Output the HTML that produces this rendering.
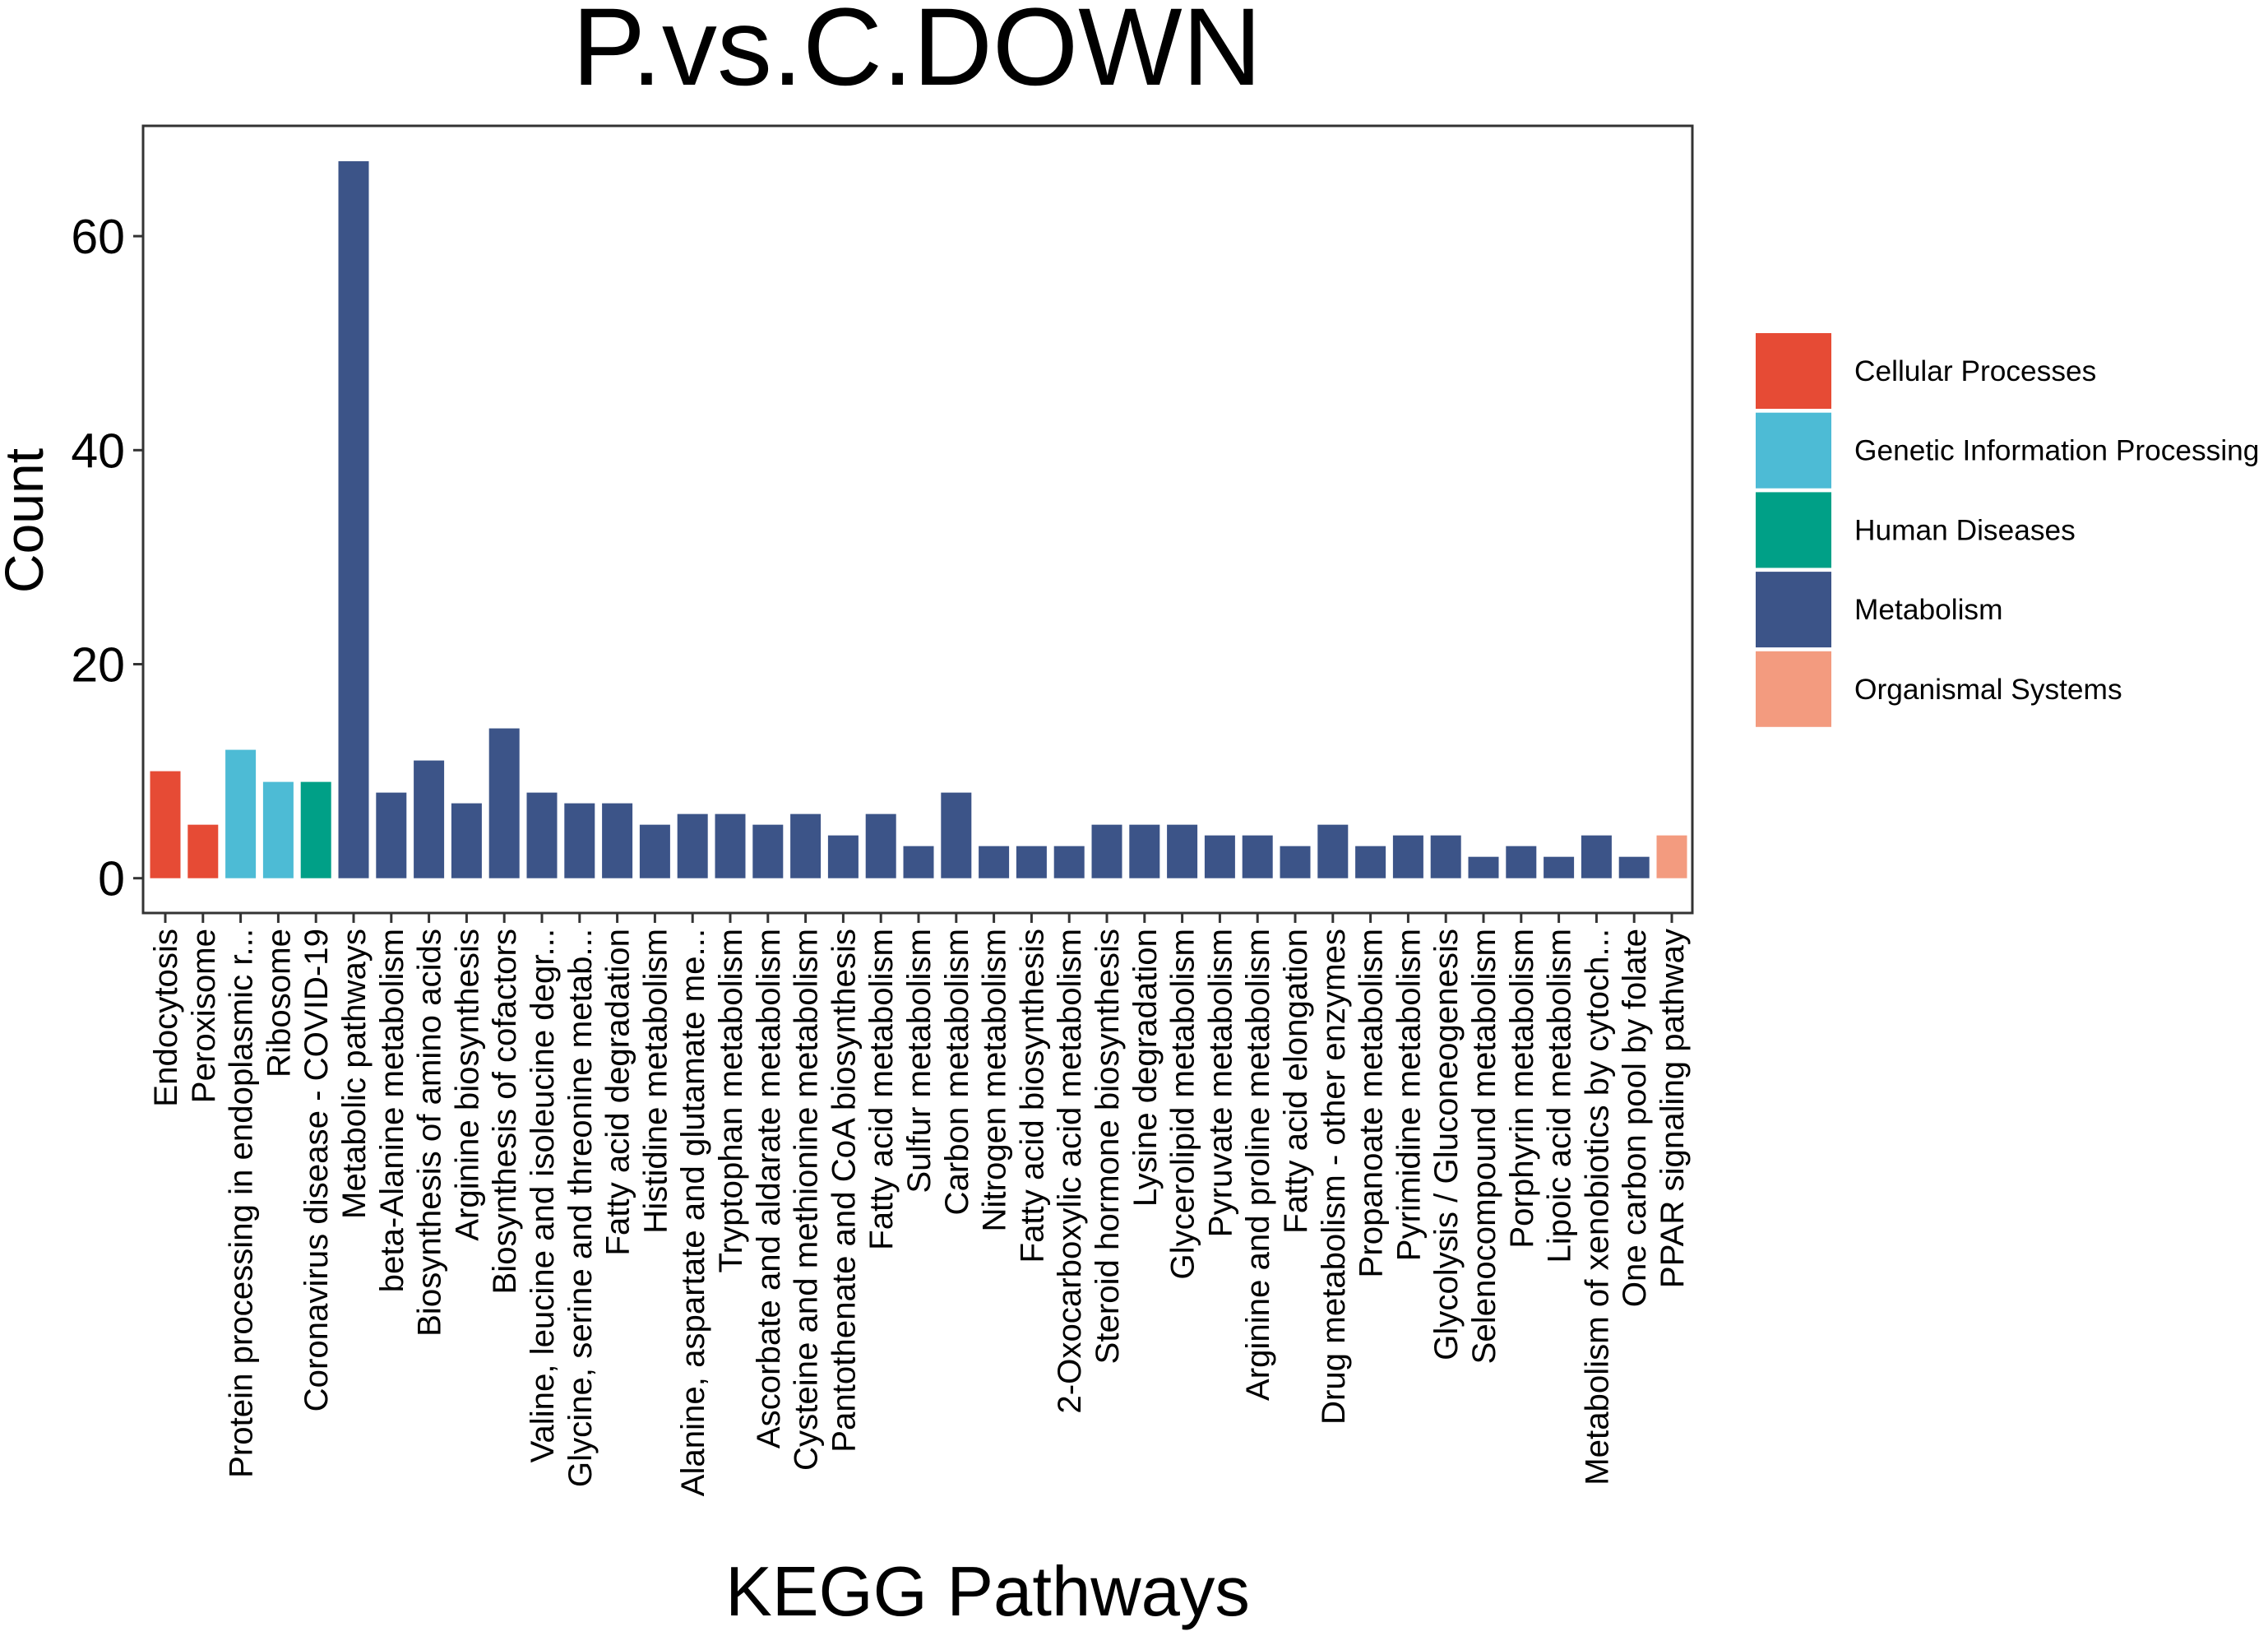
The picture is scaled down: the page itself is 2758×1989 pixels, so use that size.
<!DOCTYPE html>
<html><head><meta charset="utf-8"><style>
html,body{margin:0;padding:0;background:#fff;}
svg{display:block;font-family:"Liberation Sans",Arial,sans-serif;}
</style></head><body>
<svg id="chart" width="2758" height="1989" viewBox="0 0 2758 1989">
<text x="1115" y="103" font-size="134" text-anchor="middle" fill="#000">P.vs.C.DOWN</text>
<g id="plot"></g>
<text transform="translate(52,633) rotate(-90)" font-size="66" text-anchor="middle" fill="#000">Count</text>
<text x="1201" y="1964" font-size="85" text-anchor="middle" fill="#000">KEGG Pathways</text>
<g id="legend"></g>
</svg>
<script>
const categories = ["Endocytosis","Peroxisome","Protein processing in endoplasmic r...","Ribosome","Coronavirus disease - COVID-19","Metabolic pathways","beta-Alanine metabolism","Biosynthesis of amino acids","Arginine biosynthesis","Biosynthesis of cofactors","Valine, leucine and isoleucine degr...","Glycine, serine and threonine metab...","Fatty acid degradation","Histidine metabolism","Alanine, aspartate and glutamate me...","Tryptophan metabolism","Ascorbate and aldarate metabolism","Cysteine and methionine metabolism","Pantothenate and CoA biosynthesis","Fatty acid metabolism","Sulfur metabolism","Carbon metabolism","Nitrogen metabolism","Fatty acid biosynthesis","2-Oxocarboxylic acid metabolism","Steroid hormone biosynthesis","Lysine degradation","Glycerolipid metabolism","Pyruvate metabolism","Arginine and proline metabolism","Fatty acid elongation","Drug metabolism - other enzymes","Propanoate metabolism","Pyrimidine metabolism","Glycolysis / Gluconeogenesis","Selenocompound metabolism","Porphyrin metabolism","Lipoic acid metabolism","Metabolism of xenobiotics by cytoch...","One carbon pool by folate","PPAR signaling pathway"];
const counts = [10,5,12,9,9,67,8,11,7,14,8,7,7,5,6,6,5,6,4,6,3,8,3,3,3,5,5,5,4,4,3,5,3,4,4,2,3,2,4,2,4];
const groups = ["Cellular Processes","Cellular Processes","Genetic Information Processing","Genetic Information Processing","Human Diseases","Metabolism","Metabolism","Metabolism","Metabolism","Metabolism","Metabolism","Metabolism","Metabolism","Metabolism","Metabolism","Metabolism","Metabolism","Metabolism","Metabolism","Metabolism","Metabolism","Metabolism","Metabolism","Metabolism","Metabolism","Metabolism","Metabolism","Metabolism","Metabolism","Metabolism","Metabolism","Metabolism","Metabolism","Metabolism","Metabolism","Metabolism","Metabolism","Metabolism","Metabolism","Metabolism","Organismal Systems"];
const yTicks = [0,20,40,60];
const legendLabels = ["Cellular Processes","Genetic Information Processing","Human Diseases","Metabolism","Organismal Systems"];
const legendColors = ["#E64B35","#4DBBD5","#00A087","#3C5488","#F39B7F"];

const NS = "http://www.w3.org/2000/svg";
const L = 174, R = 2058, T = 153, B = 1110;
const x0 = 201, step = 45.8, bw = 37;
const yZero = 1067.7, perUnit = 13.01;
function xPos(i){ return x0 + i*step; }
function yPos(v){ return yZero - v*perUnit; }
function colorOf(g){ return legendColors[legendLabels.indexOf(g)]; }
function mk(tag, attrs){ const e = document.createElementNS(NS, tag); for (const k in attrs) e.setAttribute(k, attrs[k]); return e; }

const plot = document.getElementById('plot');
counts.forEach((v,i)=>{
  const r = mk('rect',{x:xPos(i)-bw/2, y:yPos(v), width:bw, height:yPos(0)-yPos(v), fill:colorOf(groups[i])});
  
  
  plot.appendChild(r);
});
const frame = mk('rect',{x:L, y:T, width:R-L, height:B-T, fill:'none', stroke:'#333', 'stroke-width':3});


plot.appendChild(frame);
yTicks.forEach(t=>{
  const y = yPos(t);
  const tk = mk('line',{x1:L-12, x2:L, y1:y, y2:y, stroke:'#333', 'stroke-width':3});
  
  
  plot.appendChild(tk);
  const lb = mk('text',{x:L-22, y:y+21, 'font-size':59, 'text-anchor':'end', fill:'#000'});
  lb.textContent = t;
  
  
  plot.appendChild(lb);
});
categories.forEach((c,i)=>{
  const x = xPos(i);
  const tk = mk('line',{x1:x, x2:x, y1:B, y2:B+12, stroke:'#333', 'stroke-width':3});
  
  
  plot.appendChild(tk);
  const lb = mk('text',{transform:`translate(${x+14},1129) rotate(-90)`, 'font-size':40.2, 'text-anchor':'end', fill:'#000'});
  lb.textContent = c;
  
  
  plot.appendChild(lb);
});
const legend = document.getElementById('legend');
legendLabels.forEach((g,i)=>{
  const y = 405 + i*96.7;
  const k = mk('rect',{x:2135, y:y, width:92, height:92, fill:legendColors[i]});
  
  
  legend.appendChild(k);
  const t = mk('text',{x:2255, y:y+58, 'font-size':35.3, fill:'#000'});
  t.textContent = g;
  
  
  legend.appendChild(t);
});
</script>
</body></html>
